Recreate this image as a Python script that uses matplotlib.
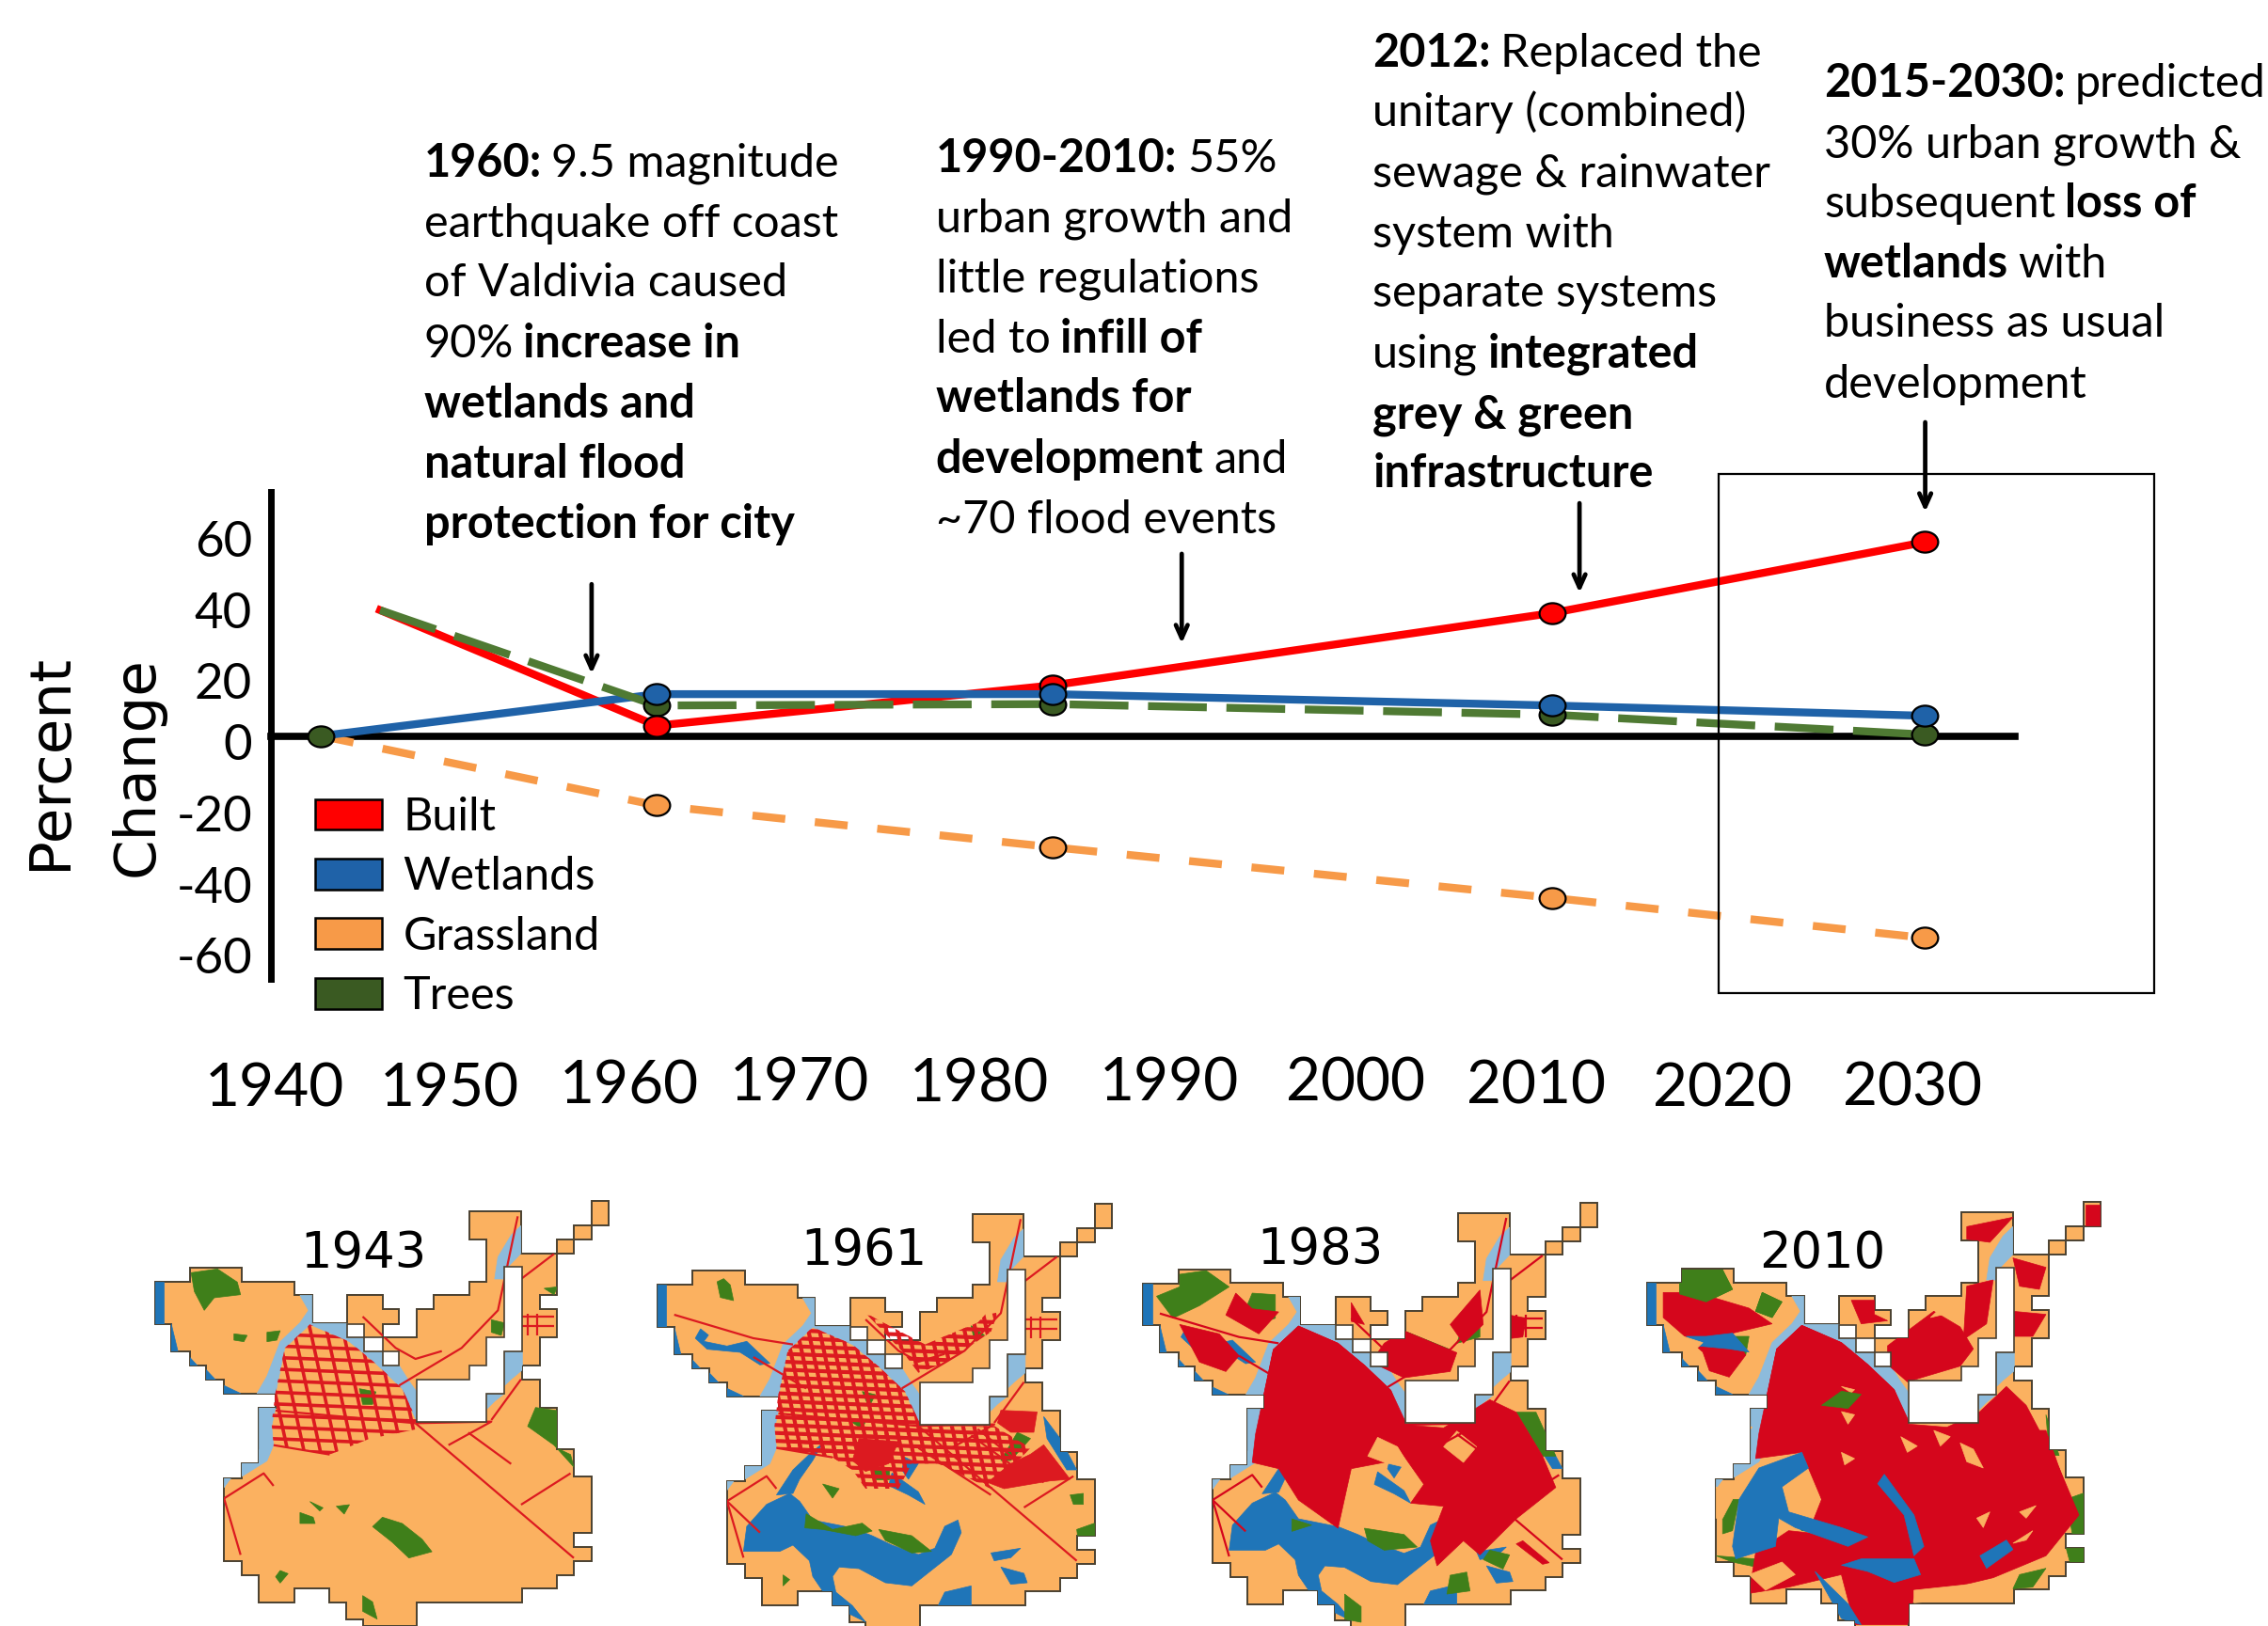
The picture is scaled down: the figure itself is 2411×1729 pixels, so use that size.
import matplotlib
matplotlib.use("Agg")
import matplotlib.pyplot as plt
from matplotlib.patches import Polygon, Patch, Rectangle
from matplotlib.collections import LineCollection
from matplotlib.path import Path
from matplotlib.transforms import Affine2D

# ---------- chart data ----------
years_full = [1943, 1961.2, 1982.7, 2009.8, 2030]
years_late = [1946.2, 1961.2, 1982.7, 2009.8, 2030]
built = [35.5, 2.9, 14.3, 34.7, 54.7]
wetlands = [0, 11.8, 11.8, 8.6, 5.7]
grassland = [0, -19.6, -31.4, -45.7, -57]
trees = [35.5, 8.6, 9, 6, 0.4]
series_names = ["Built", "Wetlands", "Grassland", "Trees"]
ytick_labels = ["60", "40", "20", "0", "-20", "-40", "-60"]
xtick_labels = ["1940", "1950", "1960", "1970", "1980", "1990", "2000", "2010", "2020", "2030"]
map_years = ["1943", "1961", "1983", "2010"]

C_BUILT, C_WET, C_GRASS, C_TREE, C_TREEL = "#FF0000", "#1F62A8", "#F79A48", "#3A5A22", "#4F7A33"

FONT = "Lato"
plt.rcParams["font.family"] = [FONT, "DejaVu Sans"]
W, H = 2411, 1729
K = 2411 / 1568
fig = plt.figure(figsize=(W / 100, H / 100), dpi=100, facecolor="white")
pa = fig.add_axes([0, 0, 1, 1], zorder=4)
pa.set_xlim(0, W); pa.set_ylim(H, 0); pa.axis("off")

# ---------- chart axes ----------
L, R, T, B = 287.5, 2142, 523, 1041
ax = fig.add_axes([L / W, 1 - B / H, (R - L) / W, (B - T) / H], zorder=3)
ax.patch.set_alpha(0)
ax.set_xlim(1940.25, 2034.9)
ax.set_ylim(-68.6, 68.9)
for s in ("top", "right"):
    ax.spines[s].set_visible(False)
ax.spines["left"].set_linewidth(5)
ax.spines["bottom"].set_position(("data", 0))
ax.spines["bottom"].set_linewidth(5.5)
ax.set_xticks([])
ytick_pos = [55.5, 35.5, 15.5, -1.6, -22, -42, -62]
ax.set_yticks(ytick_pos)
ax.set_yticklabels(ytick_labels, fontsize=38)
ax.tick_params(axis="y", length=0, pad=14)

ell = Path.unit_circle().transformed(Affine2D().scale(1, 0.8))
mk = dict(marker=ell, ms=20, mec="black", mew=1.6, ls="none", clip_on=False)
ax.plot(years_full, grassland, color=C_GRASS, lw=6, dashes=(4.2, 3.8), zorder=3)
ax.plot(years_late, built, color=C_BUILT, lw=6, zorder=4)
ax.plot(years_full, wetlands, color=C_WET, lw=6, zorder=5)
ax.plot(years_late, trees, color=C_TREEL, lw=6, dashes=(7.5, 2.5), zorder=6)
ax.plot(years_full[1:], grassland[1:], color=C_GRASS, zorder=7, **mk)
ax.plot(years_full[2:3], built[2:3], color=C_BUILT, zorder=8, **mk)
ax.plot(years_full[1:], trees[1:], color=C_TREE, zorder=9, **mk)
ax.plot(years_full[1:], wetlands[1:], color=C_WET, zorder=10, **mk)
ax.plot(years_full[0], 0, color=C_TREE, zorder=11, **mk)
ax.plot([years_full[i] for i in (1, 3, 4)], [built[i] for i in (1, 3, 4)], color=C_BUILT, zorder=12, **mk)

handles = [Patch(fc=c, ec="black", lw=1.8) for c in (C_BUILT, C_WET, C_GRASS, C_TREE)]
fig.legend(handles, series_names, loc="upper left", bbox_to_anchor=(335 / W, 1 - 847 / H),
           frameon=False, fontsize=35, labelspacing=0.4, handlelength=1.46, handleheight=0.66,
           handletextpad=0.46, borderpad=0, borderaxespad=0)

# x labels (placed as in the reference, not evenly)
xt_x = [190, 311, 435, 553, 677, 808, 937, 1062, 1191, 1322]
xt_y = [751, 751, 749, 747, 748, 747, 747, 749, 751, 750]
for t, x, y in zip(xtick_labels, xt_x, xt_y):
    pa.text(x * K, (y + 2.5) * K, t, fontsize=46, ha="center", va="center")

pa.text(35 * K, 527 * K, "Percent", family="DejaVu Sans", fontsize=44, rotation=90, ha="center", va="center")
pa.text(95 * K, 530 * K, "Change", family="DejaVu Sans", fontsize=44, rotation=90, ha="center", va="center")

# box round the forecast
pa.add_patch(Rectangle((1188 * K, 328 * K), 301 * K, 359 * K, fc="none", ec="black", lw=1.6, zorder=2))

# ---------- annotations ----------
blocks = [
    (293, [111, 153, 194, 236, 278, 319, 361], [
        [("1960:", 1), ("9.5 magnitude", 0)], [("earthquake off coast", 0)], [("of Valdivia caused", 0)],
        [("90%", 0), ("increase in", 1)], [("wetlands and", 1)], [("natural flood", 1)],
        [("protection for city", 1)]]),
    (647, [108, 149, 191, 233, 274, 316, 358], [
        [("1990-2010:", 1), ("55%", 0)], [("urban growth and", 0)], [("little regulations", 0)],
        [("led to", 0), ("infill of", 1)], [("wetlands for", 1)], [("development", 1), ("and", 0)],
        [("~70 flood events", 0)]]),
    (949, [35, 76, 118, 160, 201, 243, 285, 326], [
        [("2012:", 1), ("Replaced the", 0)], [("unitary (combined)", 0)], [("sewage & rainwater", 0)],
        [("system with", 0)], [("separate systems", 0)], [("using", 0), ("integrated", 1)],
        [("grey & green", 1)], [("infrastructure", 1)]]),
    (1261, [56, 98, 139, 181, 222, 264], [
        [("2015-2030:", 1), ("predicted", 0)], [("30% urban growth &", 0)], [("subsequent", 0), ("loss of", 1)],
        [("wetlands", 1), ("with", 0)], [("business as usual", 0)], [("development", 0)]]),
]
rend = fig.canvas.get_renderer()
FS = 35
for x0, ys, lines in blocks:
    for y, runs in zip(ys, lines):
        x = x0 * K
        for txt, b in runs:
            t = pa.text(x, y * K + 17, txt, fontsize=FS, fontweight="bold" if b else "normal",
                        ha="left", va="baseline")
            x += t.get_window_extent(rend).width + FS * 0.3

for ax_x, y0, y1 in [(409, 404, 466), (817, 383, 445), (1092, 348, 410), (1331, 292, 354)]:
    pa.annotate("", xy=(ax_x * K, y1 * K), xytext=(ax_x * K, y0 * K), zorder=6,
                arrowprops=dict(arrowstyle="->,head_length=1.0,head_width=0.45", lw=3.4, color="black",
                                shrinkA=0, shrinkB=0))

# ---------- the four land-use maps (shapes in a shared local frame) ----------
OUT = [(35,310),(88,310),(88,265),(167,265),(167,308),(247,308),(247,352),(273,352),(273,442),(327,442),(327,352),
       (380,352),(380,397),(405,397),(405,443),(380,443),(380,487),(432,487),(432,397),(458,397),(458,352),(512,352),
       (512,308),(538,308),(538,175),(512,175),(512,85),(590,85),(590,218),(645,218),(645,175),(670,175),(670,130),
       (697,130),(697,52),(723,52),(723,130),(697,130),(697,175),(670,175),(670,218),(645,218),(645,352),(618,352),
       (618,397),(645,397),(645,487),(618,487),(618,575),(592,575),(592,620),(618,620),(618,710),(645,710),(645,843),
       (670,843),(670,930),(697,930),(697,1110),(670,1110),(670,1155),(697,1155),(697,1200),(670,1200),(670,1245),
       (645,1245),(645,1288),(592,1288),(592,1333),(432,1333),(432,1407),(350,1407),(350,1385),(325,1385),(325,1333),
       (300,1333),(300,1288),(247,1288),(247,1333),(193,1333),(193,1245),(167,1245),(167,1200),(140,1200),(140,935),
       (167,935),(167,888),(193,888),(193,710),(218,710),(218,665),(140,665),(140,620),(113,620),(113,575),(88,575),
       (88,530),(60,530),(60,443),(35,443)]
HOLES = [[(565,262),(592,262),(592,530),(565,530),(565,665),(538,665),(538,755),(432,755),(432,620),(512,620),
          (512,575),(538,575),(538,487),(565,487)],
         [(327,443),(352,443),(352,487),(327,487)], [(352,487),(380,487),(380,530),(352,530)],
         [(380,530),(405,530),(405,575),(380,575)]]
LB, BL, GR, RD, OR, DB = "#8DBBDC", "#1F75B8", "#3F7F1A", "#DC1A20", "#FBB160", "#1B5FA0"
RIVER = [[(255,352),(273,352),(273,442),(327,442),(327,487),(352,487),(352,530),(380,530),(380,575),(405,575),(420,625),
          (432,660),(432,755),(410,650),(370,570),(330,500),(270,445),(232,520),(218,665),(190,665),(205,610),(225,500),
          (255,440),(268,400)],
         [(193,710),(218,710),(212,770),(215,830),(205,880),(167,930),(140,935),(140,965),(167,888),(193,843)],
         [(575,160),(590,130),(590,218),(570,262),(565,300),(550,300),(555,230)],
         [(565,530),(592,530),(592,590),(575,620),(565,640)], [(538,665),(565,665),(550,690),(538,715)]]
EDGE = [[(35,310),(48,310),(48,443),(35,443)], [(60,443),(70,530),(60,530)], [(88,550),(110,600),(88,575)],
        [(113,590),(140,650),(113,620)], [(140,640),(165,665),(140,665)]]
CITY = [(270,445),(232,520),(218,660),(212,760),(215,830),(300,860),(360,810),(430,780),(432,750),(410,650),(370,570),(330,500)]
CITY61 = [(215,830),(300,860),(330,900),(350,960),(400,960),(420,880),(460,880),(540,960),(600,830),(545,760),(430,760)]
NE61 = [(350,400),(405,520),(430,590),(470,560),(540,460),(560,340),(520,430),(440,500)]

W61 = [[(165,1160),(170,1080),(200,1010),(235,975),(250,1000),(270,1060),(330,1085),(360,1110),(390,1140),(430,1170),
        (455,1150),(470,1080),(490,1060),(495,1100),(480,1170),(450,1220),(420,1270),(380,1260),(340,1215),(310,1210),
        (300,1240),(305,1290),(330,1333),(350,1385),(300,1333),(270,1240),(265,1190),(240,1140),(220,1160)],
       [(285,815),(270,870),(250,930),(240,975),(215,980),(240,900),(265,850)],
       [(100,450),(112,470),(105,490),(140,505),(170,490),(205,560),(190,565),(160,525),(110,515),(92,480)],
       [(390,910),(430,970),(440,1010),(415,980),(385,950)], [(555,1210),(590,1230),(595,1260),(570,1265)],
       [(540,1165),(585,1150),(570,1180),(545,1190)], [(470,1290),(510,1270),(510,1333),(460,1333)],
       [(410,860),(430,880),(415,930),(405,900)], [(620,730),(645,800),(670,900),(655,900),(625,800)]]
W10 = [[(165,1150),(175,1000),(205,900),(270,850),(280,900),(240,960),(250,1040),(330,1090),(370,1120),(340,1150),(260,1090),
        (235,1060),(230,1150),(170,1190)],
       [(360,1190),(440,1190),(450,1240),(410,1265),(370,1230),(330,1210)],
       [(395,920),(440,1050),(455,1150),(440,1180),(425,1050),(385,950)],
       [(290,1230),(340,1333),(360,1400),(330,1380)], [(540,1180),(580,1130),(590,1160),(550,1220)],
       [(95,480),(125,480),(165,470),(190,530),(160,520),(110,510)]]

G43 = [[(90,280),(130,268),(160,310),(165,350),(125,360),(110,400),(95,340)], [(380,1060),(410,1080),(440,1130),(455,1170),
        (420,1190),(395,1140),(365,1090)], [(255,1045),(275,1060),(278,1080),(255,1080)], [(612,710),(645,720),(645,840),(665,860),
        (670,900),(640,830),(600,770)], [(345,650),(370,660),(365,700),(350,700)], [(155,475),(175,480),(170,500),(155,495)],
       [(205,470),(225,465),(220,495),(205,500)], [(225,1230),(237,1240),(225,1270),(218,1250)], [(350,1310),(365,1330),(372,1385),(350,1360)],
       [(310,1025),(330,1020),(322,1050)], [(625,330),(645,325),(640,350)], [(545,430),(565,440),(560,480),(545,470)], [(270,1010),(290,1030),(285,1040)]]
G61 = [[(125,300),(135,290),(145,310),(150,360),(130,350)], [(260,1040),(300,1090),(345,1070),(360,1095),(335,1110),(285,1090),(258,1085)],
       [(370,1090),(420,1110),(450,1160),(420,1165),(380,1125)], [(580,780),(600,800),(570,870),(555,870)], [(225,1235),(235,1250),(225,1270)],
       [(660,980),(680,975),(680,1010),(665,1010)], [(670,1090),(697,1070),(697,1120),(672,1120)], [(345,650),(365,660),(355,700)],
       [(360,890),(385,890),(385,930),(365,930)], [(285,945),(310,960),(300,990)], [(320,735),(350,745),(345,770)], [(510,440),(530,470),(515,490)]]
R61 = [[(555,710),(610,715),(605,780),(570,780),(550,750)], [(620,820),(660,930),(630,935),(560,960),(535,940),(570,880),(600,850)],
       [(340,800),(400,810),(385,880),(350,905),(330,870)]]
G83 = [[(90,280),(130,268),(165,320),(120,380),(80,420),(55,350),(90,320)], [(200,340),(235,345),(235,420),(195,450),(190,390)],
       [(370,1090),(430,1110),(450,1150),(400,1160),(375,1130)], [(340,650),(365,660),(360,710),(335,700)], [(260,1060),(290,1080),(260,1100)],
       [(600,720),(630,720),(660,860),(640,860)], [(430,460),(500,520),(480,570),(420,590),(395,540)], [(520,440),(545,400),(545,480),(510,500)],
       [(340,1300),(365,1340),(365,1390),(340,1380)], [(500,1240),(525,1230),(530,1290),(495,1300)], [(560,1160),(590,1175),(580,1220),(550,1190)]]
R83 = [[(270,445),(232,520),(205,790),(200,880),(240,900),(270,1000),(330,1090),(350,900),(400,880),(420,830),(460,950),(440,1010),(490,1020),
        (470,1130),(480,1210),(520,1130),(545,1175),(600,1060),(660,960),(640,860),(600,720),(560,680),(490,770),(430,760),(410,650),(370,570),(330,500)],
       [(175,340),(200,390),(240,400),(210,470),(160,410)], [(90,440),(150,470),(180,540),(160,590),(120,560),(100,480)],
       [(400,500),(430,460),(510,530),(500,590),(430,610),(380,560)], [(590,410),(615,420),(610,480),(590,485)], [(500,440),(545,330),(550,440),(520,500)],
       [(610,1130),(650,1200),(640,1205),(600,1140)], [(350,370),(370,440),(350,430)]]
O83 = [[(390,800),(420,830),(440,900),(400,880),(375,860)], [(340,1010),(380,1030),(395,1080),(350,1090)], [(510,780),(540,830),(520,880),(490,830)]]
G10 = [[(85,268),(150,268),(165,330),(125,370),(85,345)], [(210,340),(240,370),(225,420),(200,400)], [(330,655),(360,665),(340,710),(300,700)],
       [(250,1050),(320,1085),(330,1110),(270,1100)], [(140,1180),(200,1190),(210,1220),(165,1200)], [(640,730),(660,860),(645,860)],
       [(670,1000),(697,980),(697,1110),(680,1110)], [(670,1155),(697,1155),(697,1200),(675,1200)], [(600,1240),(640,1220),(620,1280),(590,1285)],
       [(150,1000),(175,1000),(165,1100),(150,1110)], [(160,480),(190,480),(185,540),(165,520)]]
R10 = [[(270,445),(232,520),(205,790),(200,870),(270,850),(300,1000),(285,1080),(340,1120),(250,1100),(200,1170),(190,1300),(250,1280),(330,1240),(350,1400),
        (430,1400),(440,1310),(560,1250),(640,1180),(690,1050),(660,900),(610,700),(580,640),(540,720),(490,770),(432,760),(410,650),(370,570),(330,500)],
       CITY, [(280,780),(640,780),(685,1050),(560,1240),(330,1180),(300,1000)],
       [(60,340),(110,340),(190,390),(225,440),(165,470),(185,540),(160,610),(130,590),(120,530),(60,420)],
       [(345,365),(380,365),(380,410),(400,430),(360,440)], [(400,510),(470,400),(510,450),(530,520),(510,575),(430,625),(400,570)],
       [(520,130),(590,100),(555,180),(520,170)], [(520,320),(560,300),(550,440),(515,490)], [(590,230),(640,260),(630,330),(600,320)],
       [(590,400),(640,410),(620,480),(590,480)], [(700,60),(722,60),(722,125),(700,125)]]
O10 = [[(330,640),(350,650),(345,660)], [(510,820),(530,840),(545,900),(520,880)], [(470,780),(495,800),(480,830)], [(465,420),(490,370),(510,360),(505,400)],
       [(170,750),(195,770),(185,790)], [(90,480),(120,500),(100,540)], [(140,960),(165,1000),(150,1060),(140,1060)], [(590,1140),(620,1100),(610,1130)],
       [(190,1240),(240,1200),(260,1240),(215,1290)], [(440,1290),(530,1270),(500,1320),(440,1330)], [(330,850),(350,870),(335,890)], [(420,800),(445,830),(430,850)],
       [(600,1040),(625,1020),(610,1060)], [(535,1060),(555,1040),(545,1090)], [(330,720),(350,730),(340,760)]]


def grid(x0, x1, y0, y1, step):
    segs = []
    x = x0
    while x < x1:
        segs.append([(x, y0), (x + 60, y1)])
        x += step
    y = y0
    while y < y1:
        segs.append([(x0, y), (x1, y + 35)])
        y += step * 1.5
    return segs


ROADS43 = [[(430,760),(670,1190)], [(430,760),(545,755),(480,830)], [(510,790),(575,890)], [(590,1020),(665,920)], [(140,1000),(200,920),(215,960)],
           [(300,860),(215,830)], [(405,640),(500,520),(555,400),(585,100)], [(350,420),(400,520),(430,555),(470,530)], [(545,750),(590,620)],
           [(590,300),(640,220)], [(218,720),(430,760)], [(140,1000),(165,1180)], [(590,420),(640,420)], [(600,410),(600,480)], [(615,410),(615,480)], [(590,450),(640,450)]]
ROADS61 = ROADS43 + [[(60,405),(180,480),(240,500)], [(180,540),(260,640)], [(430,830),(540,980)], [(520,770),(620,940)], [(140,1000),(190,1100)]]

maps = {
    "1943": dict(off=(0, 0), water=[], green=G43, red=[], orange=[], roads=ROADS43, step=19, w=2.6, extra=[], grid=True),
    "1961": dict(off=(534.6, 3), water=W61, green=G61, red=R61, orange=[], roads=ROADS61, step=13, w=3.0, extra=[CITY61, NE61], grid=True),
    "1983": dict(off=(1050.9, 1.7), water=W61, green=G83, red=R83, orange=O83, roads=ROADS61, step=12, w=3.2, extra=[], grid=False),
    "2010": dict(off=(1586, 1), water=W10, green=G10, red=R10, orange=O10, roads=ROADS61, step=12, w=3.2, extra=[], grid=False),
}
LABEL_X = [251, 597, 913, 1260]
LABEL_Y = [867, 865, 864, 867]

for (name, m), lx, ly in zip(maps.items(), LABEL_X, LABEL_Y):
    ox, oy = m["off"]
    f = lambda pts: [(140 + x / 1.4255 + ox, 1260 + y / 3 + oy) for x, y in pts]
    base = Polygon(f(OUT), closed=True, fc=OR, ec="#4a4030", lw=1.4, zorder=1)
    pa.add_patch(base)

    def layer(polys, color, z=1.2):
        for p in polys:
            q = Polygon(f(p), closed=True, fc=color, ec=color, lw=0.5, zorder=z)
            pa.add_patch(q)
            q.set_clip_path(base)

    red_col = RD if name in ("1943", "1961") else "#D5061C"
    layer(RIVER, LB)
    layer(EDGE, BL)
    if name == "2010":
        layer(m["green"], GR, 1.2)
        layer(m["red"], red_col, 1.22)
        layer(m["water"], BL, 1.24)
        layer(m["orange"], OR, 1.26)
        layer(m["green"][:3], GR, 1.27)
    else:
        layer(m["water"], BL, 1.21)
        layer(m["green"], GR, 1.22)
        layer(m["red"], red_col, 1.23)
        layer(m["orange"], OR, 1.24)
    if name == "1983":
        layer([CITY], red_col, 1.23)
    # street grid of the old town, and the southern districts in 1961
    if m["grid"]:
        for region in [CITY] + m["extra"]:
            clip = Polygon(f(region), closed=True, transform=pa.transData)
            lc = LineCollection([f(s) for s in grid(190, 620, 400, 980, m["step"] * 1.3)],
                                colors=red_col, linewidths=m["w"], zorder=1.3)
            pa.add_collection(lc)
            lc.set_clip_path(clip)
    if name != "2010":
        lc2 = LineCollection([f(s) for s in m["roads"]], colors=red_col, linewidths=1.6, zorder=1.3)
        pa.add_collection(lc2)
        lc2.set_clip_path(base)
    for h in HOLES:
        pa.add_patch(Polygon(f(h), closed=True, fc="white", ec="#4a4030", lw=1.2, zorder=1.5))
    pa.text(lx * K, ly * K, name, family="DejaVu Sans", fontsize=38, ha="center", va="center", zorder=2)

fig.savefig("out.png", dpi=100, facecolor="white")
